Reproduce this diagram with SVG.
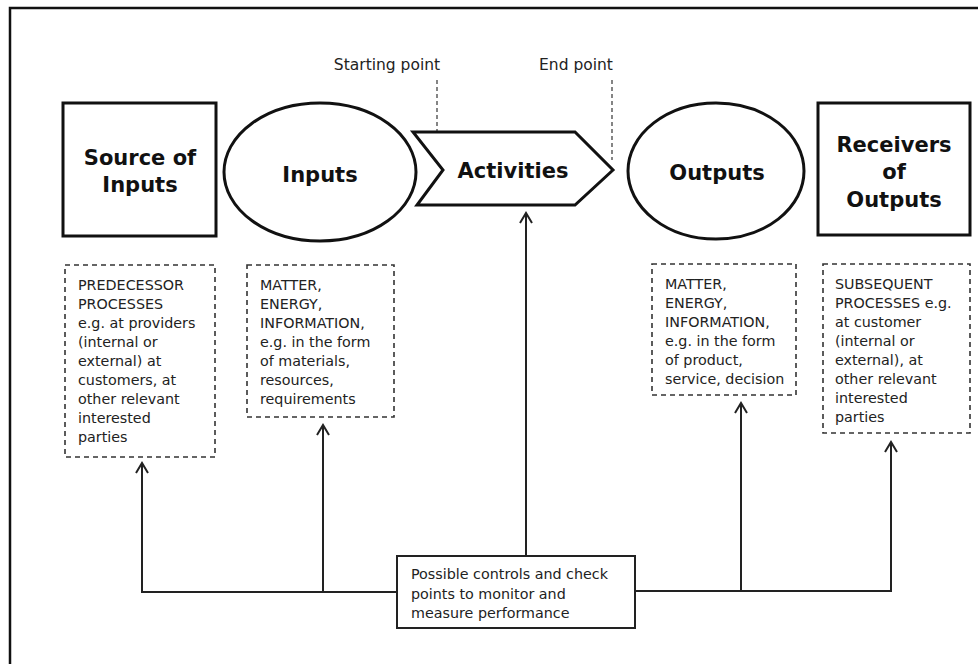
<svg xmlns="http://www.w3.org/2000/svg" width="978" height="664" viewBox="0 0 978 664">
  <defs>
    <marker id="arr" markerUnits="userSpaceOnUse" markerWidth="20" markerHeight="20" refX="0" refY="0" viewBox="-12 -10 14 20" orient="auto" overflow="visible">
      <path d="M-10,-6 L0,0 L-10,6" fill="none" stroke="#222" stroke-width="2"/>
    </marker>
    <style>
      .frame{fill:none;stroke:#111;stroke-width:2.5}
      .node{fill:#fff;stroke:#111;stroke-width:3}
      .dash{fill:#fff;stroke:#333;stroke-width:1.6;stroke-dasharray:5 4}
      .guide{fill:none;stroke:#444;stroke-width:1.3;stroke-dasharray:4 3}
      .conn{fill:none;stroke:#222;stroke-width:2}
      .title{font-family:"DejaVu Sans","Verdana",sans-serif;font-weight:bold;font-size:21px;fill:#111;text-anchor:middle}
      .body{font-family:"DejaVu Sans","Verdana",sans-serif;font-size:14.3px;fill:#222}
      .label{font-family:"DejaVu Sans","Verdana",sans-serif;font-size:15.5px;fill:#222;text-anchor:middle}
      .ctrl{fill:#fff;stroke:#222;stroke-width:2}
    </style>
  </defs>
  <rect width="978" height="664" fill="#fff"/>
  <path class="frame" d="M10,664 V8 H978"/>

  <g id="guides">
    <text class="label" x="387" y="70">Starting point</text>
    <text class="label" x="576" y="70">End point</text>
    <line class="guide" x1="437" y1="80" x2="437" y2="160"/>
    <line class="guide" x1="612" y1="80" x2="612" y2="160"/>
  </g>

  <g id="connectors">
    <path class="conn" d="M397,592 H142 V463" marker-end="url(#arr)"/>
    <path class="conn" d="M323,592 V425" marker-end="url(#arr)"/>
    <path class="conn" d="M526,556 V213" marker-end="url(#arr)"/>
    <path class="conn" d="M741,591 V403" marker-end="url(#arr)"/>
    <path class="conn" d="M635,591 H891 V442" marker-end="url(#arr)"/>
  </g>

  <g id="source">
    <rect class="node" x="63" y="103" width="153" height="133"/>
    <text class="title" x="140" y="165">Source of</text>
    <text class="title" x="140" y="192">Inputs</text>
  </g>

  <g id="inputs">
    <ellipse class="node" cx="320" cy="172" rx="96" ry="69"/>
    <text class="title" x="320" y="182">Inputs</text>
  </g>

  <g id="activities">
    <polygon class="node" points="413,132 575,132 613,170 575,205 417,205 443,170"/>
    <text class="title" x="513" y="178">Activities</text>
  </g>

  <g id="outputs">
    <ellipse class="node" cx="716" cy="171" rx="88" ry="68"/>
    <text class="title" x="717" y="180">Outputs</text>
  </g>

  <g id="receivers">
    <rect class="node" x="818" y="103" width="152" height="132"/>
    <text class="title" x="894" y="152">Receivers</text>
    <text class="title" x="894" y="179">of</text>
    <text class="title" x="894" y="207">Outputs</text>
  </g>

  <g id="predecessor">
    <rect class="dash" x="65" y="265" width="150" height="192"/>
    <text class="body" x="78" y="290">PREDECESSOR</text>
    <text class="body" x="78" y="309">PROCESSES</text>
    <text class="body" x="78" y="328">e.g. at providers</text>
    <text class="body" x="78" y="347">(internal or</text>
    <text class="body" x="78" y="366">external) at</text>
    <text class="body" x="78" y="385">customers, at</text>
    <text class="body" x="78" y="404">other relevant</text>
    <text class="body" x="78" y="423">interested</text>
    <text class="body" x="78" y="442">parties</text>
  </g>

  <g id="input-types">
    <rect class="dash" x="247" y="265" width="147" height="152"/>
    <text class="body" x="260" y="290">MATTER,</text>
    <text class="body" x="260" y="309">ENERGY,</text>
    <text class="body" x="260" y="328">INFORMATION,</text>
    <text class="body" x="260" y="347">e.g. in the form</text>
    <text class="body" x="260" y="366">of materials,</text>
    <text class="body" x="260" y="385">resources,</text>
    <text class="body" x="260" y="404">requirements</text>
  </g>

  <g id="output-types">
    <rect class="dash" x="652" y="264" width="144" height="131"/>
    <text class="body" x="665" y="289">MATTER,</text>
    <text class="body" x="665" y="308">ENERGY,</text>
    <text class="body" x="665" y="327">INFORMATION,</text>
    <text class="body" x="665" y="346">e.g. in the form</text>
    <text class="body" x="665" y="365">of product,</text>
    <text class="body" x="665" y="384">service, decision</text>
  </g>

  <g id="subsequent">
    <rect class="dash" x="823" y="264" width="147" height="169"/>
    <text class="body" x="835" y="289">SUBSEQUENT</text>
    <text class="body" x="835" y="308">PROCESSES e.g.</text>
    <text class="body" x="835" y="327">at customer</text>
    <text class="body" x="835" y="346">(internal or</text>
    <text class="body" x="835" y="365">external), at</text>
    <text class="body" x="835" y="384">other relevant</text>
    <text class="body" x="835" y="403">interested</text>
    <text class="body" x="835" y="422">parties</text>
  </g>

  <g id="controls">
    <rect class="ctrl" x="397" y="556" width="238" height="72"/>
    <text class="body" x="411" y="579">Possible controls and check</text>
    <text class="body" x="411" y="599">points to monitor and</text>
    <text class="body" x="411" y="618">measure performance</text>
  </g>
</svg>
